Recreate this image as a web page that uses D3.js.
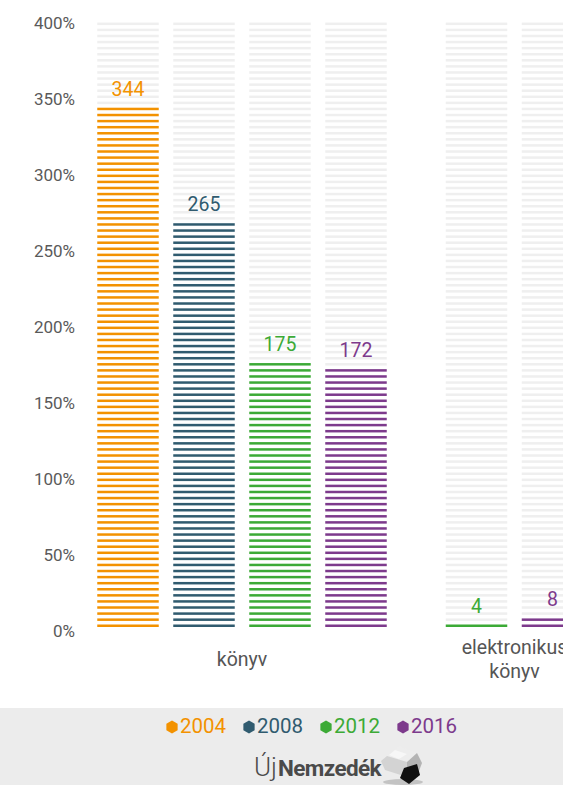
<!DOCTYPE html>
<html>
<head>
<meta charset="utf-8">
<script src="https://cdn.jsdelivr.net/npm/d3@7"></script>
<style>
  body { margin: 0; background: #fff; }
  svg { display: block; font-family: Roboto, "DejaVu Sans", sans-serif; }
</style>
</head>
<body>
<div id="chart"></div>
<script>
"use strict";

// chart data
var categories = ["könyv", "elektronikus könyv"];
var years = ["2004", "2008", "2012", "2016"];
var values2004 = [344, null];
var values2008 = [265, null];
var values2012 = [175, 4];
var values2016 = [172, 8];
var tickValues = [0, 50, 100, 150, 200, 250, 300, 350, 400];

var colors = {"2004": "#f39200", "2008": "#305b6f", "2012": "#3caa36", "2016": "#7d3a8c"};
var seriesValues = {"2004": values2004, "2008": values2008, "2012": values2012, "2016": values2016};

var width = 563, height = 785;
var stripeStep = 4;   // one stripe per 4 %

var svg = d3.select("#chart").append("svg")
  .attr("width", width)
  .attr("height", height);

var y = d3.scaleLinear().domain([0, 400]).range([627.5, 19.5]);

// group centres, then columns inside each group
var x0 = d3.scalePoint().domain(categories).range([242, 514.5]);
var colStep = 76, colWidth = 61.5;

function groupYears(ci) {
  return years.filter(function(yr) { return seriesValues[yr][ci] != null; });
}

// y axis labels
svg.append("g").selectAll("text")
  .data(tickValues)
  .enter().append("text")
  .attr("x", 75)
  .attr("y", function(d) { return y(d) + 5; })
  .attr("text-anchor", "end")
  .attr("dominant-baseline", "middle")
  .style("font-size", "17px")
  .style("fill", "#5a5a5a")
  .text(function(d) { return d + "%"; });

var stripeIdx = d3.range(0, 400 / stripeStep);

categories.forEach(function(cat, ci) {
  var ys = groupYears(ci);
  var inner = d3.scaleBand()
    .domain(ys)
    .range([-ys.length * colStep / 2, ys.length * colStep / 2])
    .paddingInner(1 - colWidth / colStep)
    .paddingOuter((1 - colWidth / colStep) / 2);

  ys.forEach(function(yr) {
    var v = seriesValues[yr][ci];
    var xl = x0(cat) + inner(yr);
    var col = svg.append("g").attr("transform", "translate(" + xl + ",0)");

    col.selectAll("rect")
      .data(stripeIdx)
      .enter().append("rect")
      .attr("x", 0)
      .attr("width", inner.bandwidth())
      .attr("y", function(i) { return y(i * stripeStep) - 3; })
      .attr("height", 2.5)
      .style("fill", function(i) { return i * stripeStep < v ? colors[yr] : "#efefef"; });

    var top = y((Math.ceil(v / stripeStep) - 1) * stripeStep) - 3;
    col.append("text")
      .attr("x", inner.bandwidth() / 2)
      .attr("y", top - 12)
      .attr("text-anchor", "middle")
      .style("font-size", "19.5px")
      .style("fill", colors[yr])
      .text(v);
  });

  // category label, wrapped (the second one runs off the right edge, as in the original)
  var words = cat.split(" ");
  var lh = 24;
  var t = svg.append("text")
    .attr("text-anchor", "middle")
    .style("font-size", "19.5px")
    .style("fill", "#555");
  words.forEach(function(w, wi) {
    t.append("tspan")
      .attr("x", x0(cat))
      .attr("y", 666 - (words.length - 1) * lh / 2 + wi * lh)
      .text(w);
  });
});

// legend band
svg.append("rect")
  .attr("x", 0).attr("y", 708)
  .attr("width", width).attr("height", height - 708)
  .style("fill", "#ececec");

var hex = d3.range(6).map(function(k) {
  var a = Math.PI / 3 * k - Math.PI / 2;
  return [6.5 * Math.cos(a), 6.5 * Math.sin(a)];
});
var legendX = d3.scalePoint().domain(years).range([172, 403]);

var leg = svg.append("g").selectAll("g")
  .data(years)
  .enter().append("g")
  .attr("transform", function(d) { return "translate(" + legendX(d) + ",727)"; });
leg.append("path")
  .attr("d", "M" + hex.join("L") + "Z")
  .style("fill", function(d) { return colors[d]; });
leg.append("text")
  .attr("x", 8)
  .attr("dominant-baseline", "middle")
  .attr("y", 1)
  .style("font-size", "20.5px")
  .style("fill", function(d) { return colors[d]; })
  .text(function(d) { return d; });

// logo
var logo = svg.append("text")
  .attr("x", 254).attr("y", 776)
  .style("fill", "#4a4a4a");
logo.append("tspan").style("font-size", "26px").style("font-weight", 300).text("Új");
logo.append("tspan").style("font-size", "22.5px").style("font-weight", 700)
  .style("letter-spacing", "-0.6px").attr("dx", 1).text("Nemzedék");

var cube = svg.append("g").attr("transform", "translate(401,765)");
cube.append("ellipse").attr("cx", 2).attr("cy", 17).attr("rx", 20).attr("ry", 3).style("fill", "#999").style("opacity", 0.5);
cube.append("path").attr("d", "M-2,-19 L16,-12 L6,-3 L-14,-9 Z").style("fill", "#ededed");
cube.append("path").attr("d", "M-14,-9 L6,-3 L6,12 L-16,5 L-20,-4 Z").style("fill", "#d3d3d3");
cube.append("path").attr("d", "M6,-3 L16,-12 L21,-2 L18,6 L6,12 Z").style("fill", "#b4b4b4");
cube.append("path").attr("d", "M-6,-15 L6,-11 L-2,-6 L-12,-10 Z").style("fill", "#f7f7f7");
cube.append("path").attr("d", "M3,3 L16,-1 L19,10 L8,19 L-1,13 Z").style("fill", "#111");
</script>
</body>
</html>
